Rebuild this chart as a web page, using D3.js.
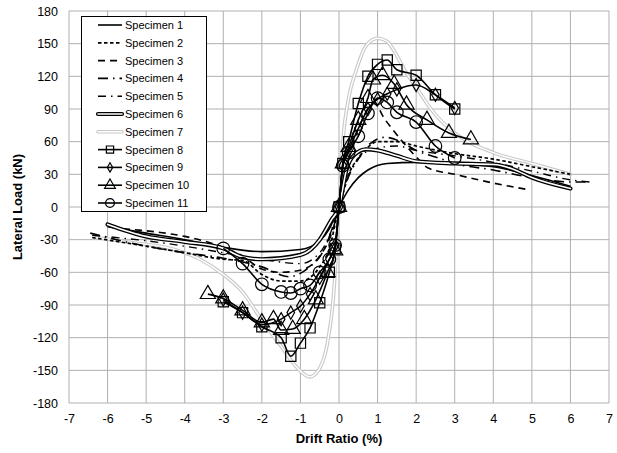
<!DOCTYPE html>
<html><head><meta charset="utf-8">
<script src="https://cdn.jsdelivr.net/npm/d3@7"></script>
<style>body{margin:0;background:#fff}svg{display:block}text{font-family:"Liberation Sans",Arial,sans-serif}</style>
</head><body><svg id="c" width="617" height="453"></svg>
<script>
// [drift %, lateral load kN]
const spec1 = [[-6,-18],[-5,-24],[-4,-30],[-3,-37],[-2,-41],[-1,-39],[-0.5,-31],[-0.25,-20],[0,0],[0.25,16],[0.5,27],[0.75,34],[1.25,40],[2,41],[3,40],[4,37],[5,29],[6,19]];
const spec2 = [[-6.4,-28],[-5,-36],[-4,-42],[-3,-48],[-2.5,-49],[-2,-62],[-1.5,-68],[-1,-68],[-0.5,-55],[-0.25,-38],[0,0],[0.25,30],[0.5,45],[0.75,55],[1,60],[1.5,60],[2,56],[3,49],[4,44],[5,37],[6,30]];
const spec3 = [[-5.6,-20],[-4.5,-24],[-4,-27],[-3,-37],[-2.5,-45],[-2,-57],[-1.5,-60],[-1,-58],[-0.5,-45],[-0.2,-25],[0,0],[0.3,50],[0.6,80],[0.9,95],[1.2,80],[1.6,62],[2,46],[2.3,36],[3,30],[4,22],[4.9,16]];
const spec4 = [[-6.45,-24],[-5,-36],[-4,-42],[-3,-47],[-2,-55],[-1.3,-64],[-0.8,-56],[-0.4,-40],[0,0],[0.2,24],[0.5,44],[0.8,58],[1.2,64],[1.6,60],[2,52],[2.5,46],[3,40],[4,34],[5,27],[6,23],[6.5,23]];
const spec5 = [[-6.4,-26],[-5,-31],[-4,-36],[-3,-42],[-2,-48],[-1,-52],[-0.5,-42],[-0.2,-22],[0,0],[0.3,33],[0.6,48],[1,54],[1.5,56],[2,52],[3,47],[4,41],[5,33],[6,25],[6.5,23]];
const spec6 = [[-6,-16],[-5,-27],[-4,-32],[-3,-38],[-2.5,-46],[-2,-48],[-1,-44],[-0.5,-30],[-0.2,-12],[0,0],[0.2,35],[0.4,48],[0.7,53],[1,52],[1.5,47],[2,42],[3,40],[4,39],[4.5,35],[5,27],[6,17]];
const spec7 = [[-6.3,-28],[-5.3,-33],[-4.5,-37],[-3.6,-48],[-3,-62],[-2.5,-78],[-2,-104],[-1.5,-128],[-1.1,-147],[-0.75,-156],[-0.5,-148],[-0.3,-125],[-0.15,-85],[0,0],[0.1,60],[0.25,100],[0.45,126],[0.7,148],[1,155],[1.25,152],[1.4,145],[1.75,123],[2,110],[2.45,87],[3,68],[4,50],[5,40],[6,30]];
const spec8 = [[-3,-87],[-2.5,-97],[-2,-110],[-1.5,-120],[-1.25,-137],[-1,-125],[-0.75,-111],[-0.5,-88],[-0.25,-60],[-0.1,-38],[0,0],[0.1,40],[0.25,60],[0.5,95],[0.75,120],[1,131],[1.25,135],[1.5,126],[2,121],[2.5,103],[3,90]];
const spec9 = [[-3,-85],[-2.5,-97],[-2,-108],[-1.5,-103],[-1.25,-97],[-1,-91],[-0.75,-80],[-0.5,-65],[-0.25,-48],[-0.1,-35],[0,0],[0.1,38],[0.25,52],[0.5,72],[0.75,90],[1,99],[1.25,104],[1.5,108],[2,112],[2.5,103],[3,91]];
const spec10 = [[-3.4,-80],[-3,-84],[-2.5,-95],[-2,-106],[-1.7,-103],[-1.5,-113],[-1.2,-112],[-0.9,-103],[-0.6,-85],[-0.3,-60],[-0.1,-40],[0,0],[0.1,40],[0.25,55],[0.5,80],[0.75,100],[0.88,117],[1.13,121],[1.43,113],[1.75,94],[2.28,80],[2.85,68],[3.42,62]];
const spec11 = [[-3,-38],[-2.5,-52],[-2,-71],[-1.5,-78],[-1.25,-79],[-1,-75],[-0.75,-72],[-0.5,-60],[-0.25,-48],[-0.1,-35],[0,0],[0.1,38],[0.25,50],[0.5,65],[0.75,86],[1,100],[1.25,96],[1.5,87],[2,78],[2.5,56],[3,45]];
const seriesNames = ["Specimen 1","Specimen 2","Specimen 3","Specimen 4","Specimen 5","Specimen 6","Specimen 7","Specimen 8","Specimen 9","Specimen 10","Specimen 11"];
const xTicks = [-7,-6,-5,-4,-3,-2,-1,0,1,2,3,4,5,6,7];
const yTicks = [-180,-150,-120,-90,-60,-30,0,30,60,90,120,150,180];

const data = [spec1,spec2,spec3,spec4,spec5,spec6,spec7,spec8,spec9,spec10,spec11];
const styles = [
  {dash:null,w:1.6},
  {dash:"3.5,2.5",w:1.7},
  {dash:"7,5",w:1.6},
  {dash:"10,5,1.5,5",w:1.6},
  {dash:"8,5,1.5,5",w:1.4},
  {hollow:"#000",w:4.2,inner:1.6},
  {hollow:"#c8c8c8",w:3.6,inner:1.4},
  {dash:null,w:1.6,marker:"square"},
  {dash:null,w:1.6,marker:"diamond"},
  {dash:null,w:1.6,marker:"triangle"},
  {dash:null,w:1.6,marker:"circle"}
];
const svg = d3.select("#c");
const x = d3.scaleLinear().domain([-7,7]).range([69,609]);
const y = d3.scaleLinear().domain([-180,180]).range([403,11]);

// grid
svg.append("g").selectAll("line").data(xTicks).join("line")
  .attr("x1",d=>x(d)).attr("x2",d=>x(d)).attr("y1",y(-180)).attr("y2",y(180))
  .attr("stroke","#b0b0b0").attr("stroke-width",1);
svg.append("g").selectAll("line").data(yTicks).join("line")
  .attr("y1",d=>y(d)).attr("y2",d=>y(d)).attr("x1",x(-7)).attr("x2",x(7))
  .attr("stroke","#b0b0b0").attr("stroke-width",1);

// axes
const fmt = d => String(d);
const xa = svg.append("g").attr("transform",`translate(0,${y(-180)})`)
  .call(d3.axisBottom(x).tickValues(xTicks).tickSize(0).tickPadding(11).tickFormat(fmt));
const ya = svg.append("g").attr("transform",`translate(${x(-7)},0)`)
  .call(d3.axisLeft(y).tickValues(yTicks).tickSize(0).tickPadding(11).tickFormat(fmt));
[xa,ya].forEach(a=>{a.select(".domain").remove();a.selectAll("text").attr("font-size",12.5).attr("fill","#000").attr("font-family","Liberation Sans, Arial, sans-serif");});

svg.append("text").attr("x",(x(-7)+x(7))/2).attr("y",443).attr("text-anchor","middle")
  .attr("font-weight","bold").attr("font-size",13).text("Drift Ratio (%)");
svg.append("text").attr("transform",`translate(22,${(y(-180)+y(180))/2}) rotate(-90)`).attr("text-anchor","middle")
  .attr("font-weight","bold").attr("font-size",13).text("Lateral Load (kN)");

const line = d3.line().x(d=>x(d[0])).y(d=>y(d[1])).curve(d3.curveMonotoneX);
const sym = {square:d3.symbolSquare,diamond:d3.symbolDiamond,triangle:d3.symbolTriangle,circle:d3.symbolCircle};
const symSize = {square:105,diamond:50,triangle:100,circle:125};

function drawStyled(g, s, pathFn){
  if(s.hollow){
    g.append("path").attr("d",pathFn).attr("fill","none").attr("stroke",s.hollow).attr("stroke-width",s.w).attr("stroke-linecap","round");
    g.append("path").attr("d",pathFn).attr("fill","none").attr("stroke","#fff").attr("stroke-width",s.inner).attr("stroke-linecap","round");
  } else {
    g.append("path").attr("d",pathFn).attr("fill","none").attr("stroke","#000").attr("stroke-width",s.w)
      .attr("stroke-dasharray",s.dash);
  }
}
const plot = svg.append("g");
const order = [6,0,1,2,3,4,5,7,8,9,10];
order.forEach(i=>{
  const g = plot.append("g");
  drawStyled(g, styles[i], line(data[i]));
  if(styles[i].marker){
    g.selectAll("path.m").data(data[i]).join("path").attr("class","m")
      .attr("transform",d=>`translate(${x(d[0])},${y(d[1])})`)
      .attr("d",d3.symbol().type(sym[styles[i].marker]).size(symSize[styles[i].marker]))
      .attr("fill","none").attr("stroke","#000").attr("stroke-width",1.2);
  }
});

// legend
const lg = svg.append("g");
lg.append("rect").attr("x",81.5).attr("y",16.5).attr("width",125).attr("height",195).attr("fill","#fff").attr("stroke","#000").attr("stroke-width",1);
seriesNames.forEach((n,i)=>{
  const yy = 25 + i*17.8;
  const g = lg.append("g");
  drawStyled(g, styles[i], `M98,${yy}L122,${yy}`);
  if(styles[i].marker){
    g.append("path").attr("transform",`translate(110,${yy})`)
      .attr("d",d3.symbol().type(sym[styles[i].marker]).size(symSize[styles[i].marker]*0.5))
      .attr("fill","none").attr("stroke","#000").attr("stroke-width",1.2);
  }
  g.append("text").attr("x",125).attr("y",yy+4).attr("font-size",11).text(n);
});
</script></body></html>
